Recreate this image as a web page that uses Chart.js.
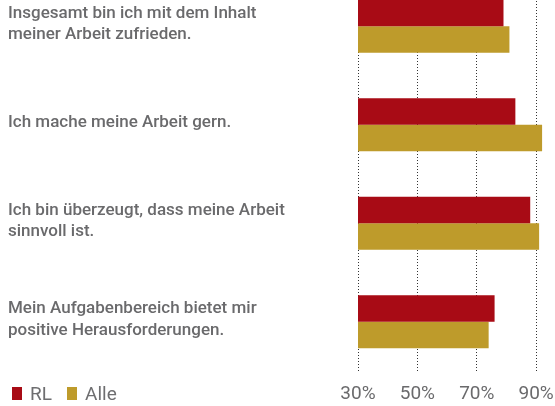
<!DOCTYPE html>
<html>
<head>
<meta charset="utf-8">
<script src="https://cdn.jsdelivr.net/npm/chart.js@4/dist/chart.umd.min.js"></script>
<style>
  html, body { margin: 0; padding: 0; background: #fff; overflow: hidden; width: 555px; height: 406px; }
  #wrap { position: absolute; left: 0; top: -23px; width: 555px; height: 429px; }
  #legend { position: absolute; left: 0; top: 0; font-family: Roboto, sans-serif; font-size: 19px; color: #6e6e70; }
  .lg-item { position: absolute; top: 383px; height: 22px; line-height: 22px; white-space: nowrap; }
  .lg-box { position: absolute; top: 4px; left: 0; width: 10px; height: 13px; }
  .lg-text { position: absolute; top: 0; left: 18px; }
</style>
</head>
<body>
<div id="wrap"><canvas id="c" width="555" height="429"></canvas></div>
<div id="legend"></div>
<script>
// ---- data ----
const categories = [
  ["Insgesamt bin ich mit dem Inhalt", "meiner Arbeit zufrieden."],
  ["Ich mache meine Arbeit gern."],
  ["Ich bin überzeugt, dass meine Arbeit", "sinnvoll ist."],
  ["Mein Aufgabenbereich bietet mir", "positive Herausforderungen."]
];
const seriesNames = ["RL", "Alle"];
const rlValues = [79, 83, 88, 76];
const alleValues = [81, 92, 91, 74];
const tickValues = [30, 50, 70, 90];

// ---- style ----
const RED = "#a80b15";
const GOLD = "#be9b2b";
const TEXT = "#6a6a6c";
const FONT = "Roboto, sans-serif";

const chart = new Chart(document.getElementById("c"), {
  type: "bar",
  data: {
    labels: categories,
    datasets: [
      { label: seriesNames[0], data: rlValues, backgroundColor: RED, borderWidth: 0 },
      { label: seriesNames[1], data: alleValues, backgroundColor: GOLD, borderWidth: 0 }
    ]
  },
  options: {
    indexAxis: "y",
    responsive: false,
    animation: false,
    devicePixelRatio: 1,
    categoryPercentage: 0.54,
    barPercentage: 1.0,
    layout: { padding: { left: 8, right: 4, top: 0, bottom: 0 } },
    plugins: { legend: { display: false }, tooltip: { enabled: false } },
    scales: {
      x: {
        type: "linear",
        position: "bottom",
        min: 30,
        max: 95,
        z: 1,
        afterBuildTicks: (s) => { s.ticks = tickValues.map(v => ({ value: v })); },
        afterFit: (s) => {
          s.height = 35;
          s.paddingLeft = 0; s.paddingRight = 0; s.paddingTop = 0; s.paddingBottom = 0;
        },
        ticks: {
          callback: (v) => v + "%",
          font: { family: FONT, size: 19 },
          color: TEXT,
          padding: 12,
          maxRotation: 0,
          autoSkip: false
        },
        grid: { color: "#333", lineWidth: 1, drawTicks: false, tickLength: 0 },
        border: { display: false, dash: [1, 2] }
      },
      y: {
        position: "left",
        grid: { display: false },
        border: { display: false },
        ticks: {
          crossAlign: "far",
          font: { family: FONT, size: 17, weight: "500", lineHeight: 1.25 },
          color: TEXT,
          padding: 0,
          labelOffset: -2,
          autoSkip: false
        },
        afterFit: (s) => {
          s.width = 350;
          s.paddingLeft = 0; s.paddingRight = 0; s.paddingTop = 0; s.paddingBottom = 0;
        }
      }
    }
  }
});

// ---- HTML legend built from the datasets ----
const legendEl = document.getElementById("legend");
const legendX = [12, 67];
chart.data.datasets.forEach((ds, i) => {
  const item = document.createElement("div");
  item.className = "lg-item";
  item.style.left = legendX[i] + "px";
  const box = document.createElement("span");
  box.className = "lg-box";
  box.style.background = ds.backgroundColor;
  const txt = document.createElement("span");
  txt.className = "lg-text";
  txt.textContent = ds.label;
  item.appendChild(box);
  item.appendChild(txt);
  legendEl.appendChild(item);
});
</script>
</body>
</html>
